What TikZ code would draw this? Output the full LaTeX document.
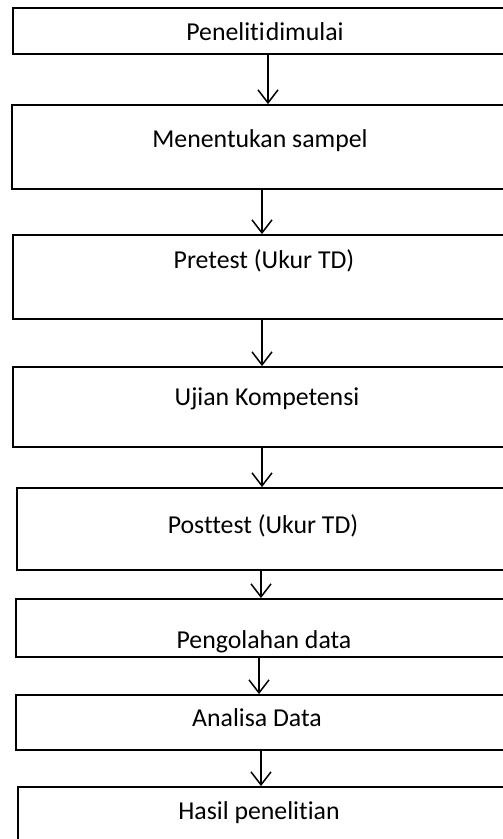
\documentclass[tikz,border=0pt]{standalone}
\usepackage{fontspec}
\setmainfont[Ligatures=NoCommon]{Carlito}
\usetikzlibrary{arrows.meta,fit}
\begin{document}
\begin{tikzpicture}[x=1pt,y=-1pt,
  box/.style={draw=black,line width=1.8pt,inner sep=0pt,rectangle},
  lbl/.style={anchor=base,inner sep=0pt,font=\fontsize{25.8}{30}\selectfont},
  arr/.style={draw=black,line width=1.5pt,-{Straight Barb[length=13pt,width=20pt,line width=1.5pt]}}]
\fill[white] (0,0) rectangle (503,839);
\useasboundingbox (0,0) rectangle (503,839);
\clip (0,0) rectangle (503,839);
% boxes
\node[box,fit={(13,8) (512,54)}] (b1) {};
\node[box,fit={(12,105) (512,189)}] (b2) {};
\node[box,fit={(13,235) (512,319)}] (b3) {};
\node[box,fit={(13,367) (512,447)}] (b4) {};
\node[box,fit={(17,488) (512,570)}] (b5) {};
\node[box,fit={(16,599) (512,657)}] (b6) {};
\node[box,fit={(16,695) (512,750)}] (b7) {};
\node[box,fit={(18,787) (512,860)}] (b8) {};
% labels
\node[lbl] (t1) at (265,40) {Peneliti\hspace{1pt}dimulai};
\node[lbl] (t2) at (260,147) {Menentukan sampel};
\node[lbl] (t3) at (264,268) {Pretest (Ukur TD)};
\node[lbl] (t4) at (267,405) {Ujian Kompetensi};
\node[lbl] (t5) at (263,533) {Posttest (Ukur TD)};
\node[lbl] (t6) at (264,648) {Pengolahan data};
\node[lbl] (t7) at (257,726) {Analisa Data};
\node[lbl] (t8) at (259,819) {Hasil penelitian};
% arrow columns
\coordinate (x1) at (268,0);
\coordinate (x2) at (262,0);
\coordinate (x3) at (262,0);
\coordinate (x4) at (262,0);
\coordinate (x5) at (261,0);
\coordinate (x6) at (259,0);
\coordinate (x7) at (261,0);
% arrows
\draw[arr] (b1.south -| x1) -- (b2.north -| x1);
\draw[arr] (b2.south -| x2) -- (b3.north -| x2);
\draw[arr] (b3.south -| x3) -- (b4.north -| x3);
\draw[arr] (b4.south -| x4) -- (b5.north -| x4);
\draw[arr] (b5.south -| x5) -- (b6.north -| x5);
\draw[arr] (b6.south -| x6) -- (b7.north -| x6);
\draw[arr] (b7.south -| x7) -- (b8.north -| x7);
\end{tikzpicture}
\end{document}
